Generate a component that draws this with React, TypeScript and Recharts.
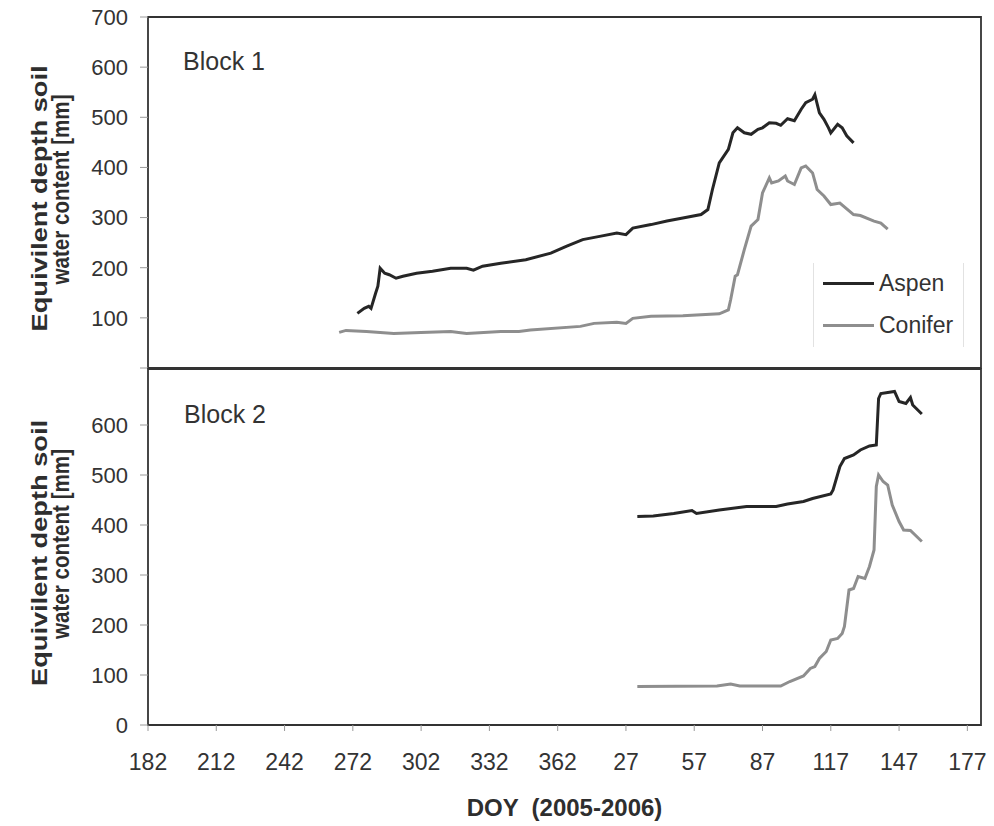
import { LineChart, Line, XAxis, YAxis, ReferenceArea, Legend } from 'recharts'

// day = DOY counted on from 2005, so 2006 days are 365 + DOY
const dayTicks = [182, 212, 242, 272, 302, 332, 362, 392, 422, 452, 482, 512, 542]
const dayTickLabels = ['182', '212', '242', '272', '302', '332', '362', '27', '57', '87', '117', '147', '177']
const block1Ticks = [0, 100, 200, 300, 400, 500, 600, 700]
const block2Ticks = [0, 100, 200, 300, 400, 500, 600]
const seriesNames = ['Aspen', 'Conifer']

const block1Aspen: [number, number][] = [
  [274, 109], [277, 119], [279, 123], [280, 119], [282, 149], [283, 163], [284, 199], [286, 189],
  [288, 186], [291, 179], [294, 183], [300, 189], [307, 193], [315, 199], [322, 199], [325, 195],
  [329, 203], [337, 209], [348, 216], [359, 229], [366, 243], [373, 256], [381, 263], [388, 269],
  [392, 266], [395, 279], [403, 286], [410, 293], [417, 299], [425, 306], [428, 316], [430, 356],
  [433, 409], [437, 436], [439, 469], [441, 479], [444, 469], [447, 466], [450, 476], [452, 479],
  [455, 489], [458, 488], [460, 484], [463, 497], [466, 493], [469, 516], [471, 529], [474, 536],
  [475, 545], [477, 509], [479, 496], [481, 479], [482, 469], [485, 486], [487, 479], [489, 463],
  [492, 449],
]

const block1Conifer: [number, number][] = [
  [266, 71], [269, 75], [278, 73], [290, 69], [302, 71], [315, 73], [322, 69], [337, 73],
  [345, 73], [350, 76], [372, 83], [378, 89], [388, 91], [392, 89], [395, 99], [403, 103],
  [417, 104], [433, 108], [437, 116], [438, 136], [440, 183], [441, 186], [444, 236], [447, 283],
  [450, 296], [452, 349], [455, 379], [456, 369], [459, 373], [462, 383], [463, 373], [466, 366],
  [469, 399], [471, 403], [474, 389], [476, 356], [479, 343], [482, 326], [486, 329], [492, 306],
  [495, 304], [501, 293], [504, 289], [507, 277],
]

const block2Aspen: [number, number][] = [
  [397, 417], [404, 418], [413, 423], [421, 429], [423, 423], [433, 430], [445, 437], [458, 437],
  [463, 442], [470, 447], [474, 453], [482, 462], [483, 470], [486, 517], [488, 533], [492, 540],
  [495, 550], [499, 558], [502, 560], [503, 653], [504, 663], [510, 667], [512, 647], [515, 643],
  [517, 655], [518, 640], [522, 622],
]

const block2Conifer: [number, number][] = [
  [397, 77], [432, 78], [438, 82], [442, 78], [460, 78], [464, 87], [470, 98], [473, 113],
  [475, 117], [477, 133], [480, 147], [482, 170], [485, 173], [487, 183], [488, 197], [490, 270],
  [492, 273], [494, 297], [497, 293], [499, 317], [501, 350], [502, 477], [503, 500], [505, 487],
  [507, 480], [509, 440], [512, 407], [514, 390], [517, 389], [522, 367],
]

const FONT = '"Liberation Sans", Arial, Helvetica, sans-serif'
const INK = '#333333'
const ASPEN = '#262626'
const CONIFER = '#8e8e8e'
const DAY_DOMAIN: [number, number] = [182, 548]

const toPoints = (rows: [number, number][]) => rows.map(([day, mm]) => ({ day, mm }))

function YTitle({ viewBox }: any) {
  const cy = (viewBox?.y ?? 0) + (viewBox?.height ?? 0) / 2
  const y1 = cy + 6
  const y2 = cy - 3
  return (
    <g fill="#2e2e2e" fontWeight="bold" style={{ fontFamily: FONT }}>
      <text x={47} y={y1} fontSize={22} transform={`rotate(-90 47 ${y1})`} textAnchor="middle" textLength={266} lengthAdjust="spacingAndGlyphs">
        Equivilent depth soil
      </text>
      <text x={69} y={y2} fontSize={23} transform={`rotate(-90 69 ${y2})`} textAnchor="middle" textLength={190} lengthAdjust="spacingAndGlyphs">
        water content [mm]
      </text>
    </g>
  )
}

function XTitle({ viewBox }: any) {
  const cx = (viewBox?.x ?? 0) + (viewBox?.width ?? 0) / 2
  const y = (viewBox?.y ?? 0) + 91
  return (
    <text x={cx} y={y} textAnchor="middle" fill="#2e2e2e" fontSize={24} fontWeight="bold" style={{ whiteSpace: 'pre', fontFamily: FONT }}>
      {'DOY  (2005-2006)'}
    </text>
  )
}

function LegendBox() {
  const colors = [ASPEN, CONIFER]
  return (
    <div
      style={{
        position: 'relative',
        width: 149,
        height: 84,
        borderLeft: '1px solid #e2e2e2',
        borderRight: '1px solid #e2e2e2',
        fontFamily: FONT,
        fontSize: 23,
        color: INK,
      }}
    >
      {seriesNames.map((name, i) => (
        <div key={name} style={{ position: 'absolute', left: 9, top: 20 + i * 42 - 14, height: 28, display: 'flex', alignItems: 'center' }}>
          <span style={{ display: 'inline-block', width: 51, height: 3, backgroundColor: colors[i] }} />
          <span style={{ marginLeft: 5, lineHeight: '28px' }}>{name}</span>
        </div>
      ))}
    </div>
  )
}

const yTick = { fontSize: 22, fill: INK }

export default function App() {
  return (
    <div style={{ position: 'absolute', left: 0, top: 0, width: 994, height: 826, background: '#fff', fontFamily: FONT }}>
      <div style={{ position: 'absolute', left: 0, top: 0 }}>
        <LineChart width={994} height={380} margin={{ top: 17, right: 13, bottom: 12, left: 0 }}>
          <XAxis type="number" dataKey="day" domain={DAY_DOMAIN} allowDataOverflow hide />
          <YAxis
            type="number"
            domain={[0, 700]}
            ticks={block1Ticks}
            interval={0}
            width={148}
            tick={yTick}
            tickFormatter={(v: number) => (v === 0 ? '' : String(v))}
            tickSize={8}
            tickMargin={12}
            tickLine={{ stroke: '#9a9a9a' }}
            axisLine={false}
            label={<YTitle />}
          />
          <ReferenceArea
            x1={182}
            x2={548}
            y1={0}
            y2={700}
            fill="none"
            stroke={INK}
            strokeWidth={1.8}
            label={{ value: 'Block 1', position: 'insideTopLeft', offset: 35, fontSize: 25, fill: INK }}
          />
          <Line data={toPoints(block1Aspen)} dataKey="mm" name={seriesNames[0]} stroke={ASPEN} strokeWidth={3} dot={false} isAnimationActive={false} />
          <Line data={toPoints(block1Conifer)} dataKey="mm" name={seriesNames[1]} stroke={CONIFER} strokeWidth={3} dot={false} isAnimationActive={false} />
          <Legend
            layout="vertical"
            align="center"
            verticalAlign="middle"
            content={() => <LegendBox />}
            wrapperStyle={{ left: 813, top: 263, width: 149, height: 84 }}
          />
        </LineChart>
      </div>
      <div style={{ position: 'absolute', left: 0, top: 360 }}>
        <LineChart width={994} height={466} margin={{ top: 9, right: 13, bottom: 0, left: 0 }}>
          <XAxis
            type="number"
            dataKey="day"
            domain={DAY_DOMAIN}
            allowDataOverflow
            ticks={dayTicks}
            interval={0}
            height={101}
            tick={{ fontSize: 23, fill: INK }}
            tickFormatter={(v: number) => dayTickLabels[dayTicks.indexOf(v)] ?? ''}
            tickSize={6}
            tickMargin={23}
            tickLine={{ stroke: '#9a9a9a' }}
            axisLine={false}
            label={<XTitle />}
          />
          <YAxis
            type="number"
            domain={[0, 712]}
            ticks={block2Ticks}
            interval={0}
            width={148}
            tick={yTick}
            tickSize={8}
            tickMargin={12}
            tickLine={{ stroke: '#9a9a9a' }}
            axisLine={false}
            label={<YTitle />}
          />
          <ReferenceArea
            x1={182}
            x2={548}
            y1={0}
            y2={712}
            fill="none"
            stroke={INK}
            strokeWidth={1.8}
            label={{ value: 'Block 2', position: 'insideTopLeft', offset: 36, fontSize: 25, fill: INK }}
          />
          <Line data={toPoints(block2Aspen)} dataKey="mm" name={seriesNames[0]} stroke={ASPEN} strokeWidth={3} dot={false} isAnimationActive={false} />
          <Line data={toPoints(block2Conifer)} dataKey="mm" name={seriesNames[1]} stroke={CONIFER} strokeWidth={3} dot={false} isAnimationActive={false} />
        </LineChart>
      </div>
    </div>
  )
}
